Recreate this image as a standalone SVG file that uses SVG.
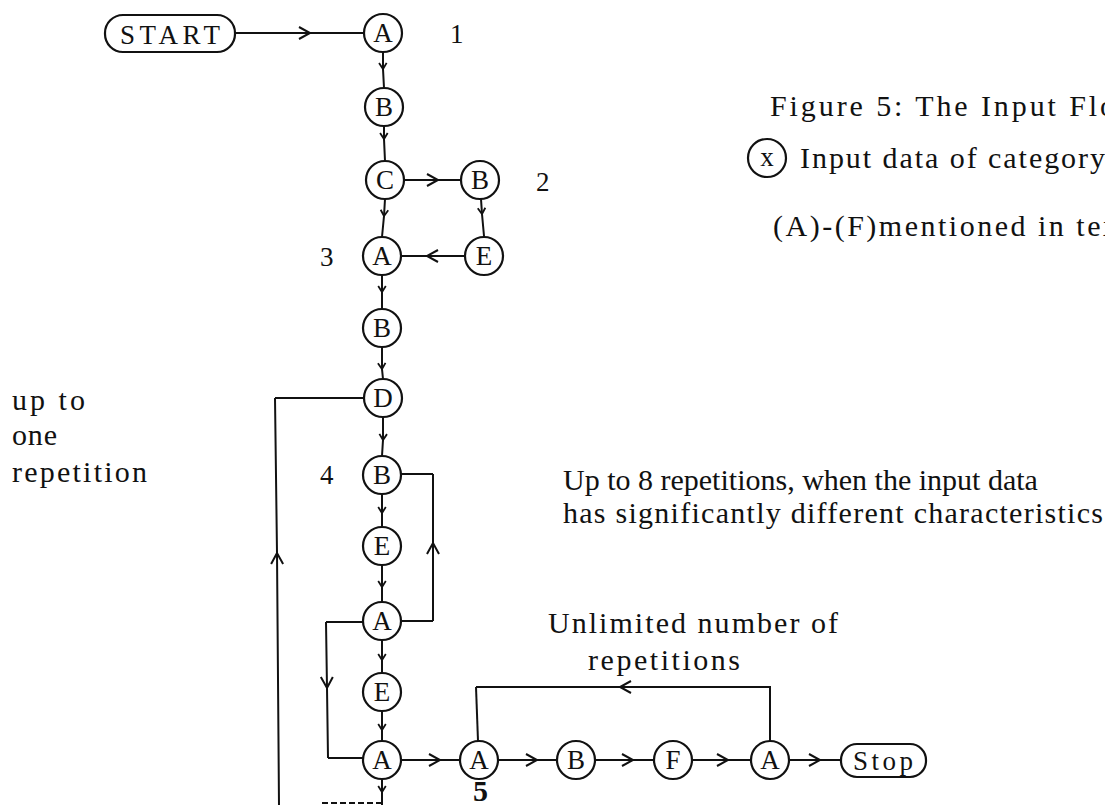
<svg xmlns="http://www.w3.org/2000/svg" width="1105" height="805" viewBox="0 0 1105 805">
<style>
  .bg{fill:#fff}
  .n circle,.n rect{fill:#fff;stroke:#111;stroke-width:2.2}
  .n text,.lbl{font-family:"Liberation Serif","Times New Roman",serif;fill:#111}
  .n text{font-size:27px;text-anchor:middle}
  .c path,.c polyline{fill:none;stroke:#111;stroke-width:2}
  .lbl{font-size:30px}
  .num{font-size:27px}
</style>
<defs>
  <marker id="s" viewBox="-10 -10 20 20" markerWidth="20" markerHeight="20" markerUnits="userSpaceOnUse" orient="auto">
    <path d="M-6,-3.8 L0,0 L-6,3.8" fill="none" stroke="#111" stroke-width="1.8"/>
  </marker>
  <marker id="b" viewBox="-14 -14 28 28" markerWidth="28" markerHeight="28" markerUnits="userSpaceOnUse" orient="auto">
    <path d="M-11,-6 L0,0 L-11,6" fill="none" stroke="#111" stroke-width="2"/>
  </marker>
</defs>
<rect class="bg" x="0" y="0" width="1105" height="805"/>

<g id="connectors" class="c">
  <polyline points="235,33 310,33 364,33" marker-mid="url(#b)"/>
  <polyline points="383,52 383,69 384,88" marker-mid="url(#s)"/>
  <polyline points="384,126 384,139 385,161" marker-mid="url(#s)"/>
  <polyline points="385,199 384,216 382,237" marker-mid="url(#s)"/>
  <polyline points="404,180 438,180 461,180" marker-mid="url(#b)"/>
  <polyline points="481,199 482,214 484,236" marker-mid="url(#s)"/>
  <polyline points="465,256 427,256 401,256" marker-mid="url(#b)"/>
  <polyline points="382,275 382,292 382,309" marker-mid="url(#s)"/>
  <polyline points="382,347 382,369 383,379" marker-mid="url(#s)"/>
  <polyline points="383,417 383,440 382,456" marker-mid="url(#s)"/>
  <polyline points="382,494 382,513 382,527" marker-mid="url(#s)"/>
  <polyline points="382,565 382,587 382,602" marker-mid="url(#s)"/>
  <polyline points="382,640 382,660 382,673" marker-mid="url(#s)"/>
  <polyline points="382,711 382,730 382,741" marker-mid="url(#s)"/>
  <polyline points="382,779 382,792 382,805" marker-mid="url(#s)"/>
  <path d="M322,803 H382" stroke="#999" stroke-dasharray="6 3"/>
  <!-- up to one repetition loop -->
  <path d="M364,398 H275"/>
  <polyline points="279,805 277,553 275,398" marker-mid="url(#b)"/>
  <!-- up to 8 repetitions loop -->
  <path d="M401,621 H433"/>
  <polyline points="433,621 433,543 433,474" marker-mid="url(#b)"/>
  <path d="M433,474 H401"/>
  <!-- A left bypass -->
  <path d="M363,622 H326"/>
  <polyline points="326,622 327,688 328,758" marker-mid="url(#b)"/>
  <path d="M328,758 H363"/>
  <!-- bottom row -->
  <polyline points="401,760 440,760 460,760" marker-mid="url(#b)"/>
  <polyline points="498,760 537,760 557,760" marker-mid="url(#b)"/>
  <polyline points="595,760 633,760 654,760" marker-mid="url(#b)"/>
  <polyline points="692,760 728,760 751,760" marker-mid="url(#b)"/>
  <polyline points="789,760 820,760 841,760" marker-mid="url(#b)"/>
  <!-- unlimited loop -->
  <path d="M770,741 V687 H700"/>
  <polyline points="700,687 620,687 476,687" marker-mid="url(#b)"/>
  <path d="M476,687 L478,741"/>
</g>

<g id="start" class="n"><rect x="105" y="15" width="130" height="37" rx="18"/><text x="170" y="44" font-size="30" textLength="100" lengthAdjust="spacing">START</text></g>
<g id="a1" class="n"><circle cx="383" cy="33" r="19"/><text x="383" y="42">A</text></g>
<g id="b1" class="n"><circle cx="384" cy="107" r="19"/><text x="384" y="116">B</text></g>
<g id="c1" class="n"><circle cx="385" cy="180" r="19"/><text x="385" y="189">C</text></g>
<g id="b2" class="n"><circle cx="480" cy="180" r="19"/><text x="480" y="189">B</text></g>
<g id="e2" class="n"><circle cx="484" cy="256" r="19"/><text x="484" y="265">E</text></g>
<g id="a3" class="n"><circle cx="382" cy="256" r="19"/><text x="382" y="265">A</text></g>
<g id="b3" class="n"><circle cx="382" cy="328" r="19"/><text x="382" y="337">B</text></g>
<g id="d1" class="n"><circle cx="383" cy="398" r="19"/><text x="383" y="407">D</text></g>
<g id="b4" class="n"><circle cx="382" cy="475" r="19"/><text x="382" y="484">B</text></g>
<g id="e4" class="n"><circle cx="382" cy="546" r="19"/><text x="382" y="555">E</text></g>
<g id="a4" class="n"><circle cx="382" cy="621" r="19"/><text x="382" y="630">A</text></g>
<g id="e5" class="n"><circle cx="382" cy="692" r="19"/><text x="382" y="701">E</text></g>
<g id="a5" class="n"><circle cx="382" cy="760" r="19"/><text x="382" y="769">A</text></g>
<g id="a6" class="n"><circle cx="479" cy="760" r="19"/><text x="479" y="769">A</text></g>
<g id="b6" class="n"><circle cx="576" cy="760" r="19"/><text x="576" y="769">B</text></g>
<g id="f6" class="n"><circle cx="673" cy="760" r="19"/><text x="673" y="769">F</text></g>
<g id="a7" class="n"><circle cx="770" cy="760" r="19"/><text x="770" y="769">A</text></g>
<g id="stop" class="n"><rect x="841" y="744" width="85" height="33" rx="16"/><text x="883" y="770" font-size="28" textLength="60" lengthAdjust="spacing">Stop</text></g>
<g id="legend-x" class="n"><circle cx="767" cy="158" r="19"/><text x="767" y="166">x</text></g>

<g id="labels">
  <text class="lbl num" x="450" y="43">1</text>
  <text class="lbl num" x="536" y="191">2</text>
  <text class="lbl num" x="320" y="266">3</text>
  <text class="lbl num" x="320" y="484">4</text>
  <text class="lbl" x="473" y="801" font-size="24" font-weight="bold">5</text>
  <text class="lbl" x="770" y="116" textLength="345" lengthAdjust="spacing">Figure 5:  The Input Flo</text>
  <text class="lbl" x="800" y="168" textLength="305" lengthAdjust="spacing">Input data of category</text>
  <text class="lbl" x="773" y="236" textLength="345" lengthAdjust="spacing">(A)-(F)mentioned in tex</text>
  <text class="lbl" x="12" y="410" font-size="31" textLength="73" lengthAdjust="spacing">up to</text>
  <text class="lbl" x="12" y="445" font-size="31" textLength="45" lengthAdjust="spacing">one</text>
  <text class="lbl" x="12" y="482" font-size="31" textLength="135" lengthAdjust="spacing">repetition</text>
  <text class="lbl" x="563" y="490" font-size="22">Up to 8 repetitions, when the input data</text>
  <text class="lbl" x="563" y="523" font-size="26" textLength="540" lengthAdjust="spacing">has significantly different characteristics</text>
  <text class="lbl" x="548" y="633" font-size="31" textLength="290" lengthAdjust="spacing">Unlimited number of</text>
  <text class="lbl" x="588" y="670" font-size="31" textLength="152" lengthAdjust="spacing">repetitions</text>
</g>
</svg>
